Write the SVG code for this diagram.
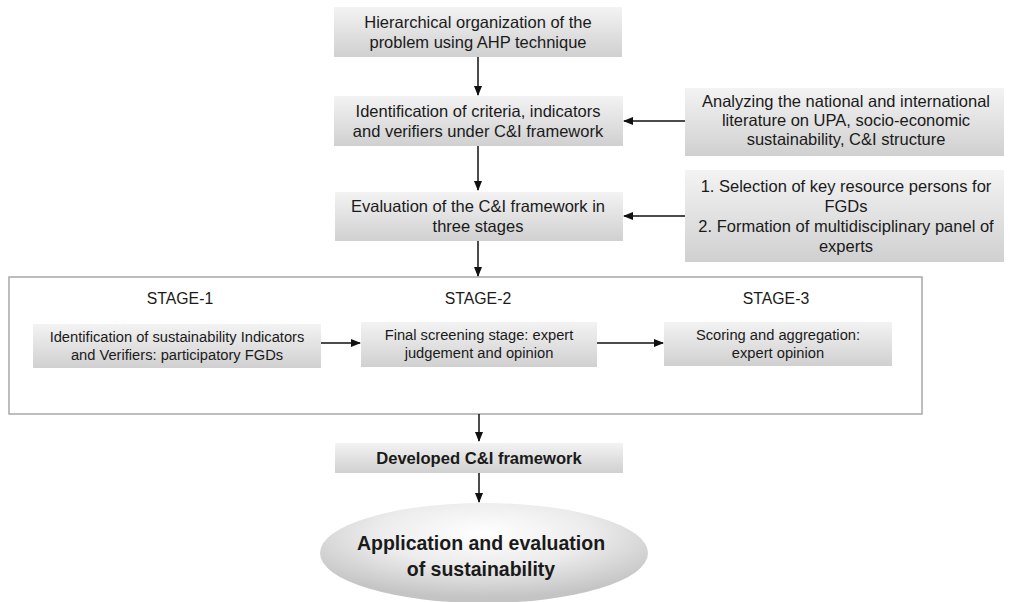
<svg xmlns="http://www.w3.org/2000/svg" width="1017" height="602" viewBox="0 0 1017 602">
<defs>
<linearGradient id="g" x1="0" y1="0" x2="0" y2="1">
<stop offset="0" stop-color="#f3f3f3"/>
<stop offset="1" stop-color="#d0d0d0"/>
</linearGradient>
<radialGradient id="eg" cx="0.5" cy="0.3" r="0.65">
<stop offset="0" stop-color="#ffffff"/>
<stop offset="0.5" stop-color="#ececec"/>
<stop offset="1" stop-color="#c4c4c4"/>
</radialGradient>
<marker id="ah" markerWidth="10" markerHeight="8" refX="9" refY="4" orient="auto" markerUnits="userSpaceOnUse">
<path d="M0,0 L10,4 L0,8 Z" fill="#111"/>
</marker>
</defs>
<style>
.box{fill:url(#g);}
.t{font-family:"Liberation Sans",Arial,sans-serif;font-size:16.5px;fill:#1a1a1a;text-anchor:middle;}
.g{font-family:"Liberation Sans",Arial,sans-serif;font-size:15.8px;fill:#1a1a1a;text-anchor:middle;}
.s{font-family:"Liberation Sans",Arial,sans-serif;font-size:14.7px;fill:#1a1a1a;text-anchor:middle;}
.b{font-family:"Liberation Sans",Arial,sans-serif;font-size:16.6px;font-weight:bold;fill:#1a1a1a;text-anchor:middle;}
.c{stroke:#111;stroke-width:1.5;fill:none;marker-end:url(#ah);}
</style>
<rect width="1017" height="602" fill="#ffffff"/>
<g id="n1"><rect class="box" x="334" y="7" width="288" height="50"/>
<text class="t" x="478" y="28">Hierarchical organization of the</text>
<text class="t" x="478" y="48">problem using AHP technique</text></g>
<g id="n2"><rect class="box" x="334" y="96" width="289" height="50"/>
<text class="t" x="478" y="117">Identification of criteria, indicators</text>
<text class="t" x="478" y="137">and verifiers under C&amp;I framework</text></g>
<g id="n3"><rect class="box" x="335" y="192" width="288" height="49"/>
<text class="t" x="478" y="212">Evaluation of the C&amp;I framework in</text>
<text class="t" x="478" y="232">three stages</text></g>
<g id="r1"><rect class="box" x="685" y="88" width="319" height="68"/>
<text class="t" x="846" y="107">Analyzing the national and international</text>
<text class="t" x="846" y="126">literature on UPA, socio-economic</text>
<text class="t" x="846" y="145">sustainability, C&amp;I structure</text></g>
<g id="r2"><rect class="box" x="685" y="170" width="319" height="92"/>
<text class="t" x="846" y="192">1.  Selection of key resource persons for</text>
<text class="t" x="846" y="212">FGDs</text>
<text class="t" x="846" y="232">2. Formation of multidisciplinary panel of</text>
<text class="t" x="846" y="252">experts</text></g>
<g id="stages"><rect x="9" y="277" width="913" height="137" fill="none" stroke="#a8a8a8" stroke-width="1.5"/>
<text class="g" x="180" y="304">STAGE-1</text>
<text class="g" x="478" y="304">STAGE-2</text>
<text class="g" x="776" y="304">STAGE-3</text></g>
<g id="s1"><rect class="box" x="33" y="324" width="288" height="44"/>
<text class="s" x="177" y="342">Identification of sustainability Indicators</text>
<text class="s" x="177" y="360">and Verifiers: participatory FGDs</text></g>
<g id="s2"><rect class="box" x="361" y="322" width="236" height="45"/>
<text class="s" x="479" y="340">Final screening stage: expert</text>
<text class="s" x="479" y="358">judgement and opinion</text></g>
<g id="s3"><rect class="box" x="664" y="322" width="228" height="44"/>
<text class="s" x="778" y="340">Scoring and aggregation:</text>
<text class="s" x="778" y="358">expert opinion</text></g>
<g id="dev"><rect class="box" x="335" y="443" width="288" height="30"/>
<text class="b" x="479" y="464">Developed C&amp;I framework</text></g>
<g id="app"><ellipse cx="484" cy="553" rx="164" ry="50" fill="url(#eg)"/>
<text class="b" x="481" y="550" style="font-size:19.5px">Application and evaluation</text>
<text class="b" x="481" y="576" style="font-size:19.5px">of sustainability</text></g>
<g id="connectors">
<line class="c" x1="478" y1="57" x2="478" y2="95"/>
<line class="c" x1="478" y1="146" x2="478" y2="190"/>
<line class="c" x1="478" y1="241" x2="478" y2="276"/>
<line class="c" x1="685" y1="121" x2="624" y2="121"/>
<line class="c" x1="685" y1="216" x2="624" y2="216"/>
<line class="c" x1="321" y1="343" x2="360" y2="343"/>
<line class="c" x1="597" y1="343" x2="663" y2="343"/>
<line class="c" x1="479" y1="414" x2="479" y2="441"/>
<line class="c" x1="479" y1="473" x2="479" y2="502"/>
</g>
</svg>
